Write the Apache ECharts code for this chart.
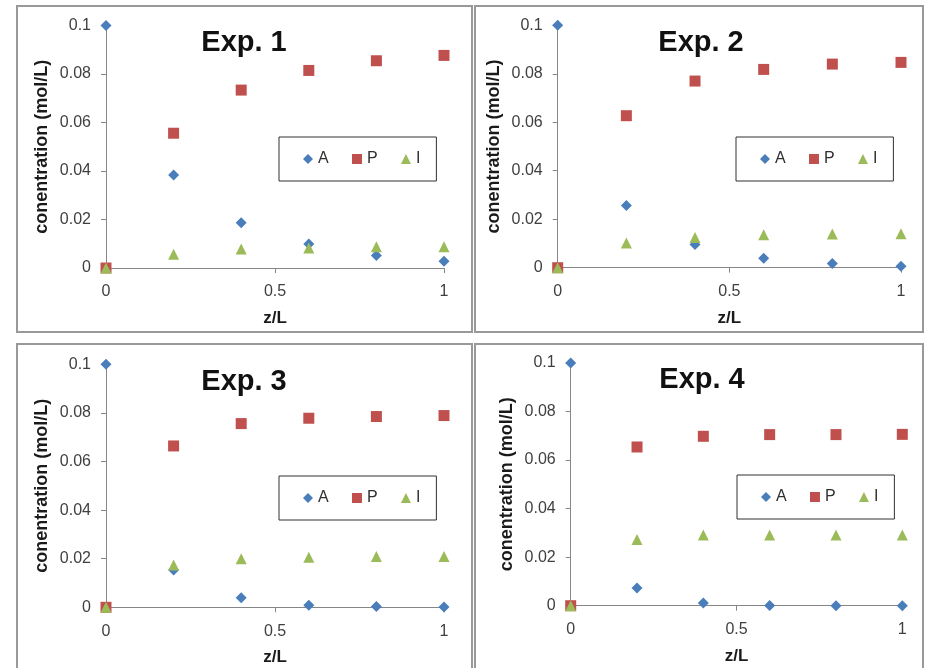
<!DOCTYPE html>
<html>
<head>
<meta charset="utf-8">
<script src="https://cdn.jsdelivr.net/npm/echarts@6/dist/echarts.min.js"></script>
<style>
  html, body { margin: 0; padding: 0; background: #ffffff; }
  #chart { width: 926px; height: 668px; }
</style>
</head>
<body>
<div id="chart"></div>
<script>
// Dimensionless reactor position z/L
const zL = [0, 0.2, 0.4, 0.6, 0.8, 1];

// Concentrations (mol/L) of A, P and I along the reactor, per experiment
const exp1A = [0.1, 0.0384, 0.0187, 0.0099, 0.0052, 0.0028];
const exp1P = [0, 0.0556, 0.0734, 0.0815, 0.0855, 0.0877];
const exp1I = [0, 0.0057, 0.0078, 0.0083, 0.0088, 0.0088];

const exp2A = [0.1, 0.0257, 0.0096, 0.0039, 0.0017, 0.0006];
const exp2P = [0, 0.0627, 0.0770, 0.0818, 0.0840, 0.0847];
const exp2I = [0, 0.0102, 0.0125, 0.0136, 0.0139, 0.0140];

const exp3A = [0.1, 0.0154, 0.0039, 0.0008, 0.0003, 0.0001];
const exp3P = [0, 0.0664, 0.0756, 0.0778, 0.0785, 0.0789];
const exp3I = [0, 0.0174, 0.0200, 0.0206, 0.0209, 0.0209];

const exp4A = [0.1, 0.0073, 0.0011, 0.0001, 0, 0];
const exp4P = [0, 0.0654, 0.0698, 0.0705, 0.0705, 0.0706];
const exp4I = [0, 0.0273, 0.0291, 0.0291, 0.0291, 0.0291];

const panelTitles = ['Exp. 1', 'Exp. 2', 'Exp. 3', 'Exp. 4'];
const speciesNames = ['A', 'P', 'I'];
const yTickLabels = ['0', '0.02', '0.04', '0.06', '0.08', '0.1'];
const xTickLabels = ['0', '0.5', '1'];
const yAxisTitle = 'conentration (mol/L)';
const xAxisTitle = 'z/L';

const experiments = [
  [exp1A, exp1P, exp1I],
  [exp2A, exp2P, exp2I],
  [exp3A, exp3P, exp3I],
  [exp4A, exp4P, exp4I]
];

const FONT = '"Liberation Sans", Arial, sans-serif';
const colors = { A: '#4a7ebb', P: '#c0504d', I: '#9bbb59' };
const symbols = { A: 'diamond', P: 'rect', I: 'triangle' };
const symbolSizes = { A: 11, P: 11, I: 11 };

// plot-area geometry of each panel
const grids = [
  { left: 106, top: 25.6, width: 338, height: 242.4 },
  { left: 557.7, top: 25.3, width: 343.3, height: 242.4 },
  { left: 106, top: 364.3, width: 338, height: 243 },
  { left: 570.7, top: 363, width: 331.6, height: 242.7 }
];
// outer frames
const frames = [
  { x: 17, y: 6, w: 455, h: 326 },
  { x: 475, y: 6, w: 448, h: 326 },
  { x: 17, y: 344, w: 455, h: 340 },
  { x: 475, y: 344, w: 448, h: 340 }
];
// title centres (middle of the capital letters)
const titlePos = [
  { x: 244, y: 43 },
  { x: 701, y: 42.5 },
  { x: 244, y: 381.5 },
  { x: 702, y: 379.5 }
];
const legendPos = [
  { left: 279, top: 137 },
  { left: 736, top: 137 },
  { left: 279, top: 476 },
  { left: 737, top: 475 }
];

const axisGray = '#868686';
const labelColor = '#404040';

const xAxes = grids.map((g, i) => ({
  type: 'value', gridIndex: i, min: 0, max: 1, interval: 0.5,
  name: xAxisTitle, nameLocation: 'middle', nameGap: 42,
  nameTextStyle: { fontFamily: FONT, fontSize: 17, fontWeight: 'bold', color: '#1a1a1a' },
  axisLine: { show: true, onZero: false, lineStyle: { color: axisGray, width: 1 } },
  axisTick: { show: true, length: 5, lineStyle: { color: axisGray } },
  axisLabel: {
    margin: 16, fontFamily: FONT, fontSize: 16, color: labelColor,
    formatter: v => xTickLabels[Math.round(v / 0.5)]
  },
  splitLine: { show: false }
}));

const yAxes = grids.map((g, i) => ({
  type: 'value', gridIndex: i, min: 0, max: 0.1, interval: 0.02,
  name: yAxisTitle, nameLocation: 'middle', nameGap: 55,
  nameTextStyle: { fontFamily: FONT, fontSize: 18, fontWeight: 'bold', color: '#1a1a1a' },
  axisLine: { show: true, lineStyle: { color: axisGray, width: 1 } },
  axisTick: { show: true, length: 5, lineStyle: { color: axisGray } },
  axisLabel: {
    margin: 15, fontFamily: FONT, fontSize: 16, color: labelColor,
    formatter: v => yTickLabels[Math.round(v / 0.02)]
  },
  splitLine: { show: false }
}));

const series = [];
experiments.forEach((exp, i) => {
  speciesNames.forEach((sp, k) => {
    series.push({
      type: 'scatter', name: sp, xAxisIndex: i, yAxisIndex: i,
      symbol: symbols[sp], symbolSize: symbolSizes[sp], clip: false,
      itemStyle: { color: colors[sp], opacity: 1 },
      data: zL.map((z, j) => [z, exp[k][j]]),
      z: 2 + k
    });
  });
});

const legends = legendPos.map(p => ({
  left: p.left, top: p.top, orient: 'horizontal',
  padding: [14, 16, 14, 24],
  borderColor: '#303030', borderWidth: 1,
  itemWidth: 10, itemHeight: 10, itemGap: 23.3,
  selectedMode: false,
  textStyle: { fontFamily: FONT, fontSize: 16, color: '#303030', lineHeight: 16, padding: [0, 0, 0, 0] },
  data: speciesNames.map(sp => ({ name: sp, icon: symbols[sp], itemStyle: { color: colors[sp] } }))
}));

const graphics = [];
frames.forEach(f => {
  graphics.push({
    type: 'rect', silent: true, z: -1,
    shape: { x: f.x, y: f.y, width: f.w, height: f.h },
    style: { fill: '#ffffff', stroke: '#999999', lineWidth: 2 }
  });
});
titlePos.forEach((t, i) => {
  graphics.push({
    type: 'text', silent: true, z: 10,
    x: t.x, y: t.y,
    style: {
      text: panelTitles[i], fontFamily: FONT, fontSize: 29, fontWeight: 'bold',
      fill: '#111111', align: 'center', verticalAlign: 'middle'
    }
  });
});

const chart = echarts.init(document.getElementById('chart'), null, { renderer: 'canvas' });
chart.setOption({
  animation: false,
  backgroundColor: '#ffffff',
  grid: grids.map(g => Object.assign({ containLabel: false }, g)),
  xAxis: xAxes,
  yAxis: yAxes,
  legend: legends,
  series: series,
  graphic: graphics
});
</script>
</body>
</html>
